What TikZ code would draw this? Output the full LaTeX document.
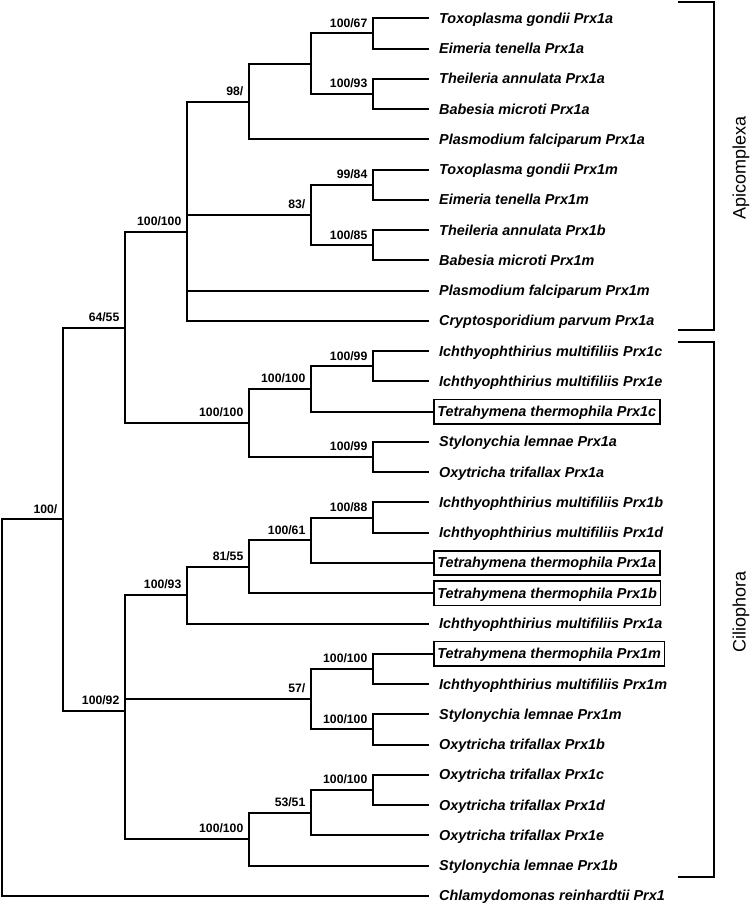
\documentclass[tikz,border=0pt]{standalone}
\usepackage{fontspec}
\setmainfont{Liberation Sans}
\begin{document}
\begin{tikzpicture}[x=1pt,y=-1pt,
  br/.style={line width=2pt,line join=miter,line cap=rect},
  leaf/.style={anchor=west,inner xsep=0pt,inner ysep=0pt,text height=10pt,text depth=0pt,
    font=\fontsize{14.4}{16}\selectfont\bfseries\itshape},
  boxleaf/.style={anchor=west,draw,line width=1.8pt,inner xsep=3.5pt,minimum height=24.5pt,
    text height=10pt,text depth=0pt,font=\fontsize{14.4}{16}\selectfont\bfseries\itshape},
  bs/.style={anchor=south east,inner sep=0pt,text depth=0pt,font=\fontsize{12.2}{14}\selectfont\bfseries},
  clade/.style={rotate=90,font=\fontsize{18}{20}\selectfont}]
\useasboundingbox (0,0) rectangle (750,906);
% leaves
\node[leaf] (l0) at (439,18.3) {Toxoplasma gondii Prx1a};
\node[leaf] (l1) at (439,48.56) {Eimeria tenella Prx1a};
\node[leaf] (l2) at (439,78.82) {Theileria annulata Prx1a};
\node[leaf] (l3) at (439,109.08) {Babesia microti Prx1a};
\node[leaf] (l4) at (439,139.34) {Plasmodium falciparum Prx1a};
\node[leaf] (l5) at (439,169.6) {Toxoplasma gondii Prx1m};
\node[leaf] (l6) at (439,199.86) {Eimeria tenella Prx1m};
\node[leaf] (l7) at (439,230.12) {Theileria annulata Prx1b};
\node[leaf] (l8) at (439,260.38) {Babesia microti Prx1m};
\node[leaf] (l9) at (439,290.64) {Plasmodium falciparum Prx1m};
\node[leaf] (l10) at (439,320.9) {Cryptosporidium parvum Prx1a};
\node[leaf] (l11) at (439,351.16) {Ichthyophthirius multifiliis Prx1c};
\node[leaf] (l12) at (439,381.42) {Ichthyophthirius multifiliis Prx1e};
\node[boxleaf] (l13) at (433,411.68) {Tetrahymena thermophila Prx1c};
\node[leaf] (l14) at (439,441.94) {Stylonychia lemnae Prx1a};
\node[leaf] (l15) at (439,472.2) {Oxytricha trifallax Prx1a};
\node[leaf] (l16) at (439,502.46) {Ichthyophthirius multifiliis Prx1b};
\node[leaf] (l17) at (439,532.72) {Ichthyophthirius multifiliis Prx1d};
\node[boxleaf] (l18) at (433,562.98) {Tetrahymena thermophila Prx1a};
\node[boxleaf] (l19) at (433,593.24) {Tetrahymena thermophila Prx1b};
\node[leaf] (l20) at (439,623.5) {Ichthyophthirius multifiliis Prx1a};
\node[boxleaf] (l21) at (433,653.76) {Tetrahymena thermophila Prx1m};
\node[leaf] (l22) at (439,684.02) {Ichthyophthirius multifiliis Prx1m};
\node[leaf] (l23) at (439,714.28) {Stylonychia lemnae Prx1m};
\node[leaf] (l24) at (439,744.54) {Oxytricha trifallax Prx1b};
\node[leaf] (l25) at (439,774.8) {Oxytricha trifallax Prx1c};
\node[leaf] (l26) at (439,805.06) {Oxytricha trifallax Prx1d};
\node[leaf] (l27) at (439,835.32) {Oxytricha trifallax Prx1e};
\node[leaf] (l28) at (439,865.58) {Stylonychia lemnae Prx1b};
\node[leaf] (l29) at (439,895.84) {Chlamydomonas reinhardtii Prx1};
% leaf line ends
\foreach \i in {0,...,12,14,15,16,17,20,22,23,24,25,26,27,28,29}
  \coordinate (e\i) at ([xshift=-11pt]l\i.west);
\foreach \i in {13,18,19,21}
  \coordinate (e\i) at (l\i.west);
% internal nodes
\coordinate (R) at (2,707.6);
\coordinate (A) at (63,519.3);
\coordinate (B) at (125,327.5);
\coordinate (C) at (125,711.13);
\coordinate (D) at (187,232.0);
\coordinate (F) at (249,101.5);
\coordinate (F1) at (311,63.69);
\coordinate (F1a) at (373,33.43);
\coordinate (F1b) at (373,93.95);
\coordinate (G) at (311,214.99);
\coordinate (G1) at (373,184.73);
\coordinate (G2) at (373,245.25);
\coordinate (E) at (249,423.03);
\coordinate (E1) at (311,388.99);
\coordinate (E1a) at (373,366.29);
\coordinate (E2) at (373,457.07);
\coordinate (H) at (187,595.13);
\coordinate (H1) at (249,566.76);
\coordinate (H1a) at (311,540.29);
\coordinate (H1aa) at (373,517.59);
\coordinate (I) at (311,699.15);
\coordinate (I1) at (373,668.89);
\coordinate (I2) at (373,729.41);
\coordinate (J) at (249,839.1);
\coordinate (J1) at (311,812.63);
\coordinate (J1a) at (373,789.93);
% branches
\foreach \p/\c in {R/A,R/e29,A/B,A/C,B/D,B/E,D/F,D/G,D/e9,D/e10,F/F1,F/e4,F1/F1a,F1/F1b,
  F1a/e0,F1a/e1,F1b/e2,F1b/e3,G/G1,G/G2,G1/e5,G1/e6,G2/e7,G2/e8,
  E/E1,E/E2,E1/E1a,E1/e13,E1a/e11,E1a/e12,E2/e14,E2/e15,
  C/H,C/I,C/J,H/H1,H/e20,H1/H1a,H1/e19,H1a/H1aa,H1a/e18,H1aa/e16,H1aa/e17,
  I/I1,I/I2,I1/e21,I1/e22,I2/e23,I2/e24,J/J1,J/e28,J1/J1a,J1/e27,J1a/e25,J1a/e26}
  \draw[br] (\p) |- (\c);
% support values
\foreach \n/\t in {A/100\slash{},B/64\slash 55,C/100\slash 92,D/100\slash 100,F/98\slash{},F1a/100\slash 67,F1b/100\slash 93,
  G/83\slash{},G1/99\slash 84,G2/100\slash 85,E/100\slash 100,E1/100\slash 100,E1a/100\slash 99,E2/100\slash 99,
  H/100\slash 93,H1/81\slash 55,H1a/100\slash 61,H1aa/100\slash 88,I/57\slash{},I1/100\slash 100,I2/100\slash 100,
  J/100\slash 100,J1/53\slash 51,J1a/100\slash 100}
  \node[bs] at ([xshift=-5.5pt,yshift=6pt]\n) {\t};
% clade brackets
\draw[line width=2pt,line join=miter] (678,2) -- (714,2) -- (714,330) -- (678,330);
\draw[line width=2pt,line join=miter] (678,342.3) -- (714,342.3) -- (714,877.3) -- (678,877.3);
\node[clade] (api) at (741,168) {Apicomplexa};
\node[clade] (cil) at (741,612) {Ciliophora};
\end{tikzpicture}
\end{document}
